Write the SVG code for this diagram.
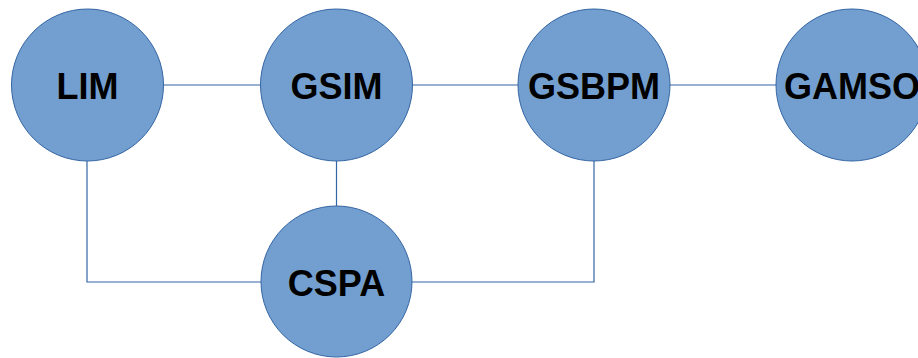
<svg xmlns="http://www.w3.org/2000/svg" width="918" height="358" viewBox="0 0 918 358">
<style>
.n{fill:#729fcf;stroke:#3465a4;stroke-width:1}
.t{font-family:"Liberation Sans",Arial,sans-serif;font-weight:bold;font-size:36px;fill:#000;text-anchor:middle}
.c{fill:none;stroke:#3465a4;stroke-width:1.2}
</style>
<rect width="918" height="358" fill="#fff"/>
<g id="connectors">
<line class="c" x1="163" y1="85" x2="261" y2="85"/>
<line class="c" x1="412" y1="85" x2="518" y2="85"/>
<line class="c" x1="670" y1="85" x2="776" y2="85"/>
<line class="c" x1="336.5" y1="161" x2="336.5" y2="206"/>
<polyline class="c" points="87,161 87,282 261,282"/>
<polyline class="c" points="412,282 594,282 594,161"/>
</g>
<g id="LIM"><circle class="n" cx="87.5" cy="85" r="76"/><text class="t" x="87.5" y="99">LIM</text></g>
<g id="GSIM"><circle class="n" cx="336.5" cy="85" r="76"/><text class="t" x="336.5" y="99">GSIM</text></g>
<g id="GSBPM"><circle class="n" cx="594" cy="85" r="76"/><text class="t" x="594" y="99">GSBPM</text></g>
<g id="GAMSO"><circle class="n" cx="852" cy="85" r="76"/><text class="t" x="852" y="99">GAMSO</text></g>
<g id="CSPA"><circle class="n" cx="336.5" cy="281.5" r="75.5"/><text class="t" x="336.5" y="295.5">CSPA</text></g>
</svg>
